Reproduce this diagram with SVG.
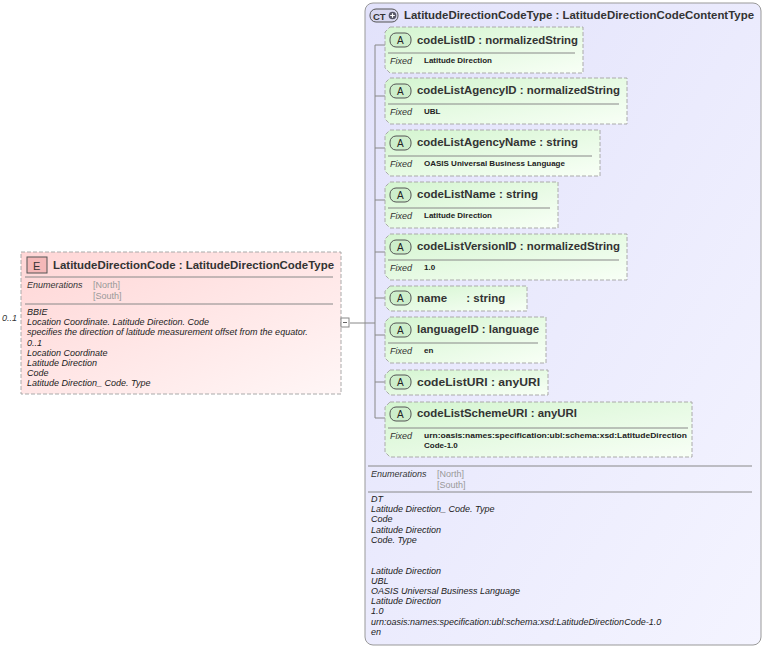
<svg xmlns="http://www.w3.org/2000/svg" width="765" height="648" viewBox="0 0 765 648">
<defs>
<linearGradient id="gE" x1="0" y1="0" x2="1" y2="1"><stop offset="0" stop-color="#ffd6d6"/><stop offset="1" stop-color="#fff6f6"/></linearGradient>
<linearGradient id="gA" x1="0" y1="0" x2="1" y2="1"><stop offset="0" stop-color="#d4f5d0"/><stop offset="1" stop-color="#f8fff6"/></linearGradient>
<linearGradient id="gCT" x1="0" y1="0" x2="1" y2="1"><stop offset="0" stop-color="#e2e2fb"/><stop offset="1" stop-color="#f4f4ff"/></linearGradient>
</defs>
<style>
text{font-family:"Liberation Sans",Arial,sans-serif;fill:#222}
.t{font-size:11.5px;font-weight:bold;fill:#333}
.i{font-size:9px;font-style:italic;fill:#333}
.f{font-size:8px;font-weight:bold}
.g{font-size:9px;fill:#999}
.ab{fill:#cdeecb;stroke:#555;stroke-width:1}
.box{fill:url(#gA);stroke:#aaa;stroke-dasharray:4,2}
.sep{stroke:#888;stroke-width:1}
.c{stroke:#888;fill:none}
</style>
<g id="ct">
<rect x="365" y="3" width="396" height="642" rx="8" fill="url(#gCT)" stroke="#999"/>
<rect x="370" y="9" width="28" height="13" rx="6" fill="#d8d8f0" stroke="#555"/>
<text x="373" y="19.5" style="font-size:9.5px;font-weight:bold;fill:#333">CT</text>
<circle cx="392.5" cy="15.5" r="3.8" fill="#556"/><path d="M390.2 15.5h4.6M392.5 13.2v4.6" stroke="#fff" stroke-width="1.2"/>
<text class="t" x="404" y="19" textLength="350" lengthAdjust="spacingAndGlyphs">LatitudeDirectionCodeType : LatitudeDirectionCodeContentType</text>
<line class="sep" x1="368" y1="466" x2="752" y2="466"/>
<text class="i" x="371" y="477">Enumerations</text>
<text class="g" x="437" y="477">[North]</text>
<text class="g" x="437" y="488">[South]</text>
<line class="sep" x1="368" y1="492" x2="752" y2="492"/>
<g class="i">
<text x="371" y="502">DT</text>
<text x="371" y="512">Latitude Direction_ Code. Type</text>
<text x="371" y="522">Code</text>
<text x="371" y="533">Latitude Direction</text>
<text x="371" y="543">Code. Type</text>
<text x="371" y="574">Latitude Direction</text>
<text x="371" y="584">UBL</text>
<text x="371" y="594">OASIS Universal Business Language</text>
<text x="371" y="604">Latitude Direction</text>
<text x="371" y="614">1.0</text>
<text x="371" y="625">urn:oasis:names:specification:ubl:schema:xsd:LatitudeDirectionCode-1.0</text>
<text x="371" y="635">en</text>
</g>
</g>
<g id="connectors">
<path class="c" d="M350 323H375M375 45V418M375 45h10M375 96h10M375 148h10M375 200h10M375 252h10M375 298h10M375 335h10M375 382h10M375 418h10"/>
</g>
<g id="element">
<rect x="21" y="252" width="320" height="142" fill="url(#gE)" stroke="#aaa" stroke-dasharray="4,2"/>
<rect x="27" y="257" width="20" height="16" fill="#f4b8b8" stroke="#555"/>
<text x="33" y="270" style="font-size:11px;fill:#333">E</text>
<text class="t" x="53" y="269" textLength="281" lengthAdjust="spacingAndGlyphs">LatitudeDirectionCode : LatitudeDirectionCodeType</text>
<line class="sep" x1="25" y1="277" x2="333" y2="277"/>
<text class="i" x="27" y="288">Enumerations</text>
<text class="g" x="93" y="288">[North]</text>
<text class="g" x="93" y="299">[South]</text>
<line class="sep" x1="25" y1="304" x2="333" y2="304"/>
<g class="i">
<text x="27" y="315">BBIE</text>
<text x="27" y="325">Location Coordinate. Latitude Direction. Code</text>
<text x="27" y="335">specifies the direction of latitude measurement offset from the equator.</text>
<text x="27" y="346">0..1</text>
<text x="27" y="356">Location Coordinate</text>
<text x="27" y="366">Latitude Direction</text>
<text x="27" y="376">Code</text>
<text x="27" y="386">Latitude Direction_ Code. Type</text>
</g>
<text class="i" x="2" y="321">0..1</text>
<rect x="341" y="318" width="8" height="9" fill="#fff" stroke="#888"/>
<line x1="343" y1="322.5" x2="347" y2="322.5" stroke="#666"/>
</g>
<g id="a1"><path class="box" d="M390 27H583V73H390L385 68V32Z"/><rect class="ab" x="390" y="33" width="21" height="14" rx="6"/><text x="397" y="44" style="font-size:10px">A</text><text class="t" x="417" y="44" textLength="161" lengthAdjust="spacingAndGlyphs">codeListID : normalizedString</text><line class="sep" x1="388" y1="53" x2="575" y2="53"/><text class="i" x="390" y="64">Fixed</text><text class="f" x="424" y="63">Latitude Direction</text></g>
<g id="a2"><path class="box" d="M390 78H627V124H390L385 119V83Z"/><rect class="ab" x="390" y="84" width="21" height="14" rx="6"/><text x="397" y="95" style="font-size:10px">A</text><text class="t" x="417" y="94" textLength="203" lengthAdjust="spacingAndGlyphs">codeListAgencyID : normalizedString</text><line class="sep" x1="388" y1="104" x2="619" y2="104"/><text class="i" x="390" y="115">Fixed</text><text class="f" x="424" y="114">UBL</text></g>
<g id="a3"><path class="box" d="M390 130H600V176H390L385 171V135Z"/><rect class="ab" x="390" y="136" width="21" height="14" rx="6"/><text x="397" y="147" style="font-size:10px">A</text><text class="t" x="417" y="146" textLength="161" lengthAdjust="spacingAndGlyphs">codeListAgencyName : string</text><line class="sep" x1="388" y1="156" x2="592" y2="156"/><text class="i" x="390" y="167">Fixed</text><text class="f" x="424" y="166">OASIS Universal Business Language</text></g>
<g id="a4"><path class="box" d="M390 182H558V228H390L385 223V187Z"/><rect class="ab" x="390" y="188" width="21" height="14" rx="6"/><text x="397" y="199" style="font-size:10px">A</text><text class="t" x="417" y="198" textLength="121" lengthAdjust="spacingAndGlyphs">codeListName : string</text><line class="sep" x1="388" y1="208" x2="550" y2="208"/><text class="i" x="390" y="219">Fixed</text><text class="f" x="424" y="218">Latitude Direction</text></g>
<g id="a5"><path class="box" d="M390 234H627V280H390L385 275V239Z"/><rect class="ab" x="390" y="240" width="21" height="14" rx="6"/><text x="397" y="251" style="font-size:10px">A</text><text class="t" x="417" y="250" textLength="203" lengthAdjust="spacingAndGlyphs">codeListVersionID : normalizedString</text><line class="sep" x1="388" y1="260" x2="619" y2="260"/><text class="i" x="390" y="271">Fixed</text><text class="f" x="424" y="270">1.0</text></g>
<g id="a6"><path class="box" d="M390 286H527V311H390L385 306V291Z"/><rect class="ab" x="390" y="291" width="21" height="14" rx="6"/><text x="397" y="302" style="font-size:10px">A</text><text class="t" x="417" y="302" xml:space="preserve">name      : string</text></g>
<g id="a7"><path class="box" d="M390 317H546V363H390L385 358V322Z"/><rect class="ab" x="390" y="323" width="21" height="14" rx="6"/><text x="397" y="334" style="font-size:10px">A</text><text class="t" x="417" y="333" textLength="122" lengthAdjust="spacingAndGlyphs">languageID : language</text><line class="sep" x1="388" y1="343" x2="538" y2="343"/><text class="i" x="390" y="354">Fixed</text><text class="f" x="424" y="353">en</text></g>
<g id="a8"><path class="box" d="M390 370H548V395H390L385 390V375Z"/><rect class="ab" x="390" y="375" width="21" height="14" rx="6"/><text x="397" y="386" style="font-size:10px">A</text><text class="t" x="417" y="386" textLength="123" lengthAdjust="spacingAndGlyphs">codeListURI : anyURI</text></g>
<g id="a9"><path class="box" d="M390 402H692V457H390L385 452V407Z"/><rect class="ab" x="390" y="407" width="21" height="14" rx="6"/><text x="397" y="418" style="font-size:10px">A</text><text class="t" x="417" y="417" textLength="160" lengthAdjust="spacingAndGlyphs">codeListSchemeURI : anyURI</text><line class="sep" x1="388" y1="428" x2="688" y2="428"/><text class="i" x="390" y="439">Fixed</text><text class="f" x="424" y="438" textLength="263" lengthAdjust="spacingAndGlyphs">urn:oasis:names:specification:ubl:schema:xsd:LatitudeDirection</text><text class="f" x="424" y="448">Code-1.0</text></g>
</svg>
